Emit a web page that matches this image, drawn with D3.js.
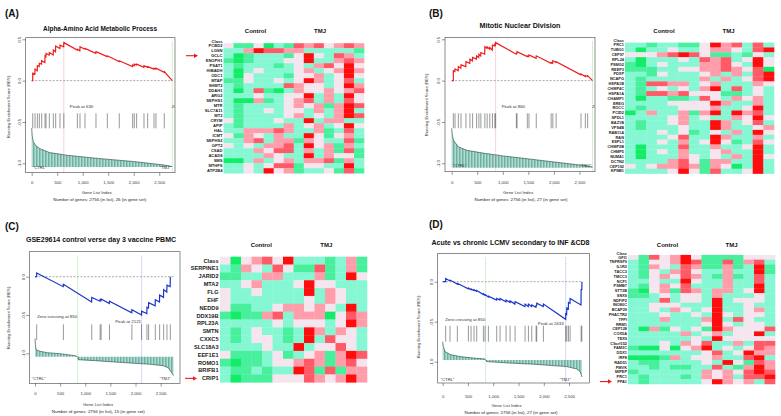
<!DOCTYPE html>
<html>
<head>
<meta charset="utf-8">
<script src="https://cdn.jsdelivr.net/npm/d3@7"></script>
<style>
  body { margin: 0; background: #fff; }
  svg { display: block; font-family: "Liberation Sans", Arial, sans-serif; }
</style>
</head>
<body>
<svg id="fig" width="781" height="416"></svg>
<script>
// data
const listLength = 2756;
const xTicks = [0, 500, 1000, 1500, 2000, 2500];
const groups = ["Control", "TMJ"];

// (A)
const titleA = "Alpha-Amino Acid Metabolic Process";
const esTicksA = [0.5, 0, -0.5, -1];
const peakA = 630, zeroA = 2756;
const hitsA = [20, 65, 111, 150, 196, 261, 281, 346, 424, 470, 555, 630, 895, 947, 1045, 1260, 1482, 1717, 1979, 2011, 2057, 2201, 2273, 2397, 2436, 2599];
const esA = [[0, 0], [20, 0], [20, 0.09], [62, 0.08], [65, 0.14], [108, 0.12], [111, 0.18], [147, 0.17], [150, 0.21], [193, 0.2], [196, 0.24], [258, 0.22], [261, 0.3], [278, 0.29], [281, 0.33], [343, 0.31], [346, 0.34], [421, 0.31], [424, 0.37], [467, 0.35], [470, 0.42], [552, 0.39], [555, 0.43], [627, 0.41], [630, 0.46], [892, 0.37], [895, 0.38], [944, 0.36], [947, 0.41], [1042, 0.38], [1045, 0.39], [1257, 0.33], [1260, 0.35], [1479, 0.29], [1482, 0.3], [1714, 0.23], [1717, 0.24], [1976, 0.17], [1979, 0.19], [2008, 0.18], [2011, 0.2], [2054, 0.19], [2057, 0.2], [2198, 0.16], [2201, 0.18], [2270, 0.16], [2273, 0.17], [2394, 0.14], [2397, 0.15], [2433, 0.14], [2436, 0.15], [2596, 0.1], [2599, 0.11], [2756, 0]];
const metricA = [[0, 1.0], [10, 0.8], [30, 0.65], [80, 0.55], [160, 0.47], [350, 0.37], [700, 0.3], [1300, 0.22], [2000, 0.14], [2600, 0.05], [2756, 0.01]];
const genesA = ["Class", "PCBD2", "LGSN", "GCLC", "ENOPH1", "PSAT1", "HIBADH", "ODC1", "MTAP", "SHMT2", "DDAH1", "ARG2", "SEPHS1", "MTR", "SLC7A11", "MT2", "CRYM", "APIP", "HAL", "ICMT", "SEPHS2", "GPT2", "CSAD", "ACAD8", "SMS", "MTHFS", "ATP2B4"];
const heatA = ["31130215453454", "22465544222221", "20122213632542", "10122233622454", "21222123245363", "20232223423464", "20322213342363", "11322323642352", "21222254332364", "20251024334345", "22232233624263", "20041234524253", "21222234341465", "21223233242462", "21222234232465", "31222322624422", "21222242342363", "22444542241252", "31432422631342", "22452441432251", "32324452634142", "22243552424151", "22224322624331", "00242342445142", "22323551332262", "22326341223151"];
const markA = "GCLC";

// (B)
const titleB = "Mitotic Nuclear Division";
const esTicksB = [0.5, 0, -0.5, -1];
const peakB = 860, zeroB = 2756;
const hitsB = [32, 65, 130, 182, 279, 357, 409, 487, 532, 571, 649, 694, 746, 798, 844, 860, 1266, 1279, 1480, 1512, 1655, 1947, 1980, 2044, 2531, 2616, 2661];
const esB = [[0, 0], [32, 0], [32, 0.12], [62, 0.11], [65, 0.14], [127, 0.12], [130, 0.17], [179, 0.15], [182, 0.19], [276, 0.17], [279, 0.23], [354, 0.21], [357, 0.26], [406, 0.24], [409, 0.28], [484, 0.26], [487, 0.3], [529, 0.28], [532, 0.32], [568, 0.3], [571, 0.34], [646, 0.32], [649, 0.41], [691, 0.39], [694, 0.41], [743, 0.38], [746, 0.4], [795, 0.37], [798, 0.43], [841, 0.42], [844, 0.44], [857, 0.43], [860, 0.46], [1263, 0.32], [1266, 0.33], [1276, 0.33], [1279, 0.35], [1477, 0.29], [1480, 0.3], [1509, 0.29], [1512, 0.31], [1652, 0.27], [1655, 0.3], [1944, 0.21], [1947, 0.22], [1977, 0.21], [1980, 0.24], [2041, 0.22], [2044, 0.23], [2528, 0.07], [2531, 0.08], [2613, 0.05], [2616, 0.06], [2658, 0.05], [2661, 0.06], [2756, 0]];
const metricB = [[0, 1.0], [10, 0.85], [32, 0.7], [130, 0.53], [300, 0.44], [617, 0.37], [1000, 0.3], [1590, 0.21], [2100, 0.13], [2630, 0.05], [2756, 0.02]];
const genesB = ["Class", "PRC1", "TUBG1", "CEP97", "RPL24", "PSMG2", "REEP3", "PDXP", "NCAPG", "HSPA1B", "CHMP4C", "HSPA1A", "CHAMP1", "EREG", "ROCC", "PCID2", "SPDL1", "BAZ1B", "VPS4B", "RAB11A", "RAN", "ESPL1", "CHMP2B", "CHMP5", "NUMA1", "DCTN2", "CEP192", "KPNB1"];
const heatB = ["22122113645252", "20223223443256", "33345653112132", "20222325452363", "10232224453263", "11122334454350", "22132223424256", "21222224242356", "21554423422243", "21232324625232", "21554533311232", "20221125324342", "22223333642242", "21222333422362", "02422414626452", "22223423224363", "21223422642352", "21222322642234", "22232312324263", "22223522642242", "22232423631253", "20222522422362", "20232422342262", "20222432324263", "22224531442262", "32344541430262", "22223631522362"];

// (C)
const titleC = "GSE29614 control verse day 3 vaccine PBMC";
const esTicksC = [0, -0.5, -1];
const peakC = 2121, zeroC = 850;
const hitsC = [33, 565, 1129, 1296, 1316, 1482, 1928, 2121, 2228, 2261, 2394, 2480, 2560, 2626, 2693];
const esC = [[0, 0], [33, 0], [33, 0.05], [562, -0.13], [565, -0.1], [1126, -0.33], [1129, -0.27], [1293, -0.32], [1296, -0.3], [1313, -0.31], [1316, -0.29], [1479, -0.35], [1482, -0.32], [1925, -0.47], [1928, -0.43], [2121, -0.5], [2121, -0.45], [2225, -0.48], [2228, -0.4], [2258, -0.41], [2261, -0.34], [2391, -0.38], [2394, -0.3], [2477, -0.33], [2480, -0.24], [2557, -0.27], [2560, -0.17], [2623, -0.2], [2626, -0.11], [2690, -0.13], [2693, 0]];
const metricC = [[0, 0.9], [8, 0.6], [20, 0.35], [100, 0.27], [250, 0.2], [500, 0.15], [800, 0.05], [850, 0], [860, -0.15], [1200, -0.2], [1800, -0.3], [2300, -0.38], [2550, -0.45], [2650, -0.55], [2720, -0.8], [2756, -0.95]];
const genesC = ["Class", "SERPINE1", "JARID2", "MTA2", "FLG", "EHF", "NEDD9", "DDX19B", "RPL23A", "SMTN", "CXXC5", "SLC18A3", "EEF1E1", "ROMO1", "BRIFB1", "CRIP1"];
const heatC = ["30345362221241", "21432531151241", "11224422241263", "22342223633222", "32232222624322", "32222222324322", "31122344343262", "10114524440354", "22222323332364", "21232212642432", "21233212625332", "22223226233532", "31112312341465", "10112334541453", "21121226515144", "20111333543464"];
const markC = "CRIP1";

// (D)
const titleD = "Acute vs chronic LCMV secondary to INF &CD8";
const esTicksD = [0, -0.5, -1];
const peakD = 2433, zeroD = 850;
const hitsD = [59, 145, 290, 508, 561, 620, 673, 805, 838, 904, 1069, 1135, 1254, 1333, 1432, 1630, 1696, 1762, 1848, 1861, 1993, 2434, 2455, 2488, 2521, 2739, 2752];
const esD = [[0, 0], [59, 0], [59, 0.04], [142, 0.01], [145, 0.02], [287, -0.03], [290, -0.02], [505, -0.09], [508, -0.08], [558, -0.1], [561, -0.09], [617, -0.11], [620, -0.1], [670, -0.12], [673, -0.11], [802, -0.16], [805, -0.15], [835, -0.17], [838, -0.16], [901, -0.19], [904, -0.18], [1066, -0.23], [1069, -0.21], [1132, -0.23], [1135, -0.21], [1251, -0.25], [1254, -0.23], [1330, -0.26], [1333, -0.24], [1429, -0.28], [1432, -0.25], [1627, -0.31], [1630, -0.28], [1693, -0.31], [1696, -0.28], [1759, -0.31], [1762, -0.29], [1845, -0.32], [1848, -0.3], [1858, -0.3], [1861, -0.27], [1990, -0.31], [1993, -0.28], [2433, -0.47], [2434, -0.4], [2452, -0.41], [2455, -0.33], [2485, -0.34], [2488, -0.26], [2518, -0.27], [2521, -0.21], [2736, -0.29], [2739, -0.1], [2752, -0.1], [2756, 0]];
const metricD = [[0, 0.92], [10, 0.7], [46, 0.42], [150, 0.27], [343, 0.17], [600, 0.1], [838, 0.05], [850, 0], [870, -0.08], [1300, -0.15], [1795, -0.21], [2455, -0.33], [2650, -0.45], [2719, -0.58], [2756, -0.85]];
const genesD = ["Class", "GFI1", "TNFRSF9", "IL1R2", "TACC3", "TMCC3", "NCF1", "PSMB7", "STT3B", "SNX9", "NDFIP2", "INO80C", "BCAP29", "PHACTR2", "TFPI", "RRM1", "CEP128", "COX5A", "TEX9", "C9orf152", "FAM3C", "DDX1", "IRF8", "RAD51", "PMVK", "MIPEP", "PRC1", "PPA1"];
const heatD = ["31534631111333", "21334651151452", "21432541141261", "21324532242261", "21343542141252", "22322632242252", "21343522242262", "10341542442362", "11232332422232", "22252332623332", "22333222622322", "22324323622342", "22232232632332", "22242224625322", "22222223632332", "20413231643335", "22222423423362", "22222232633333", "22232435224255", "10030346232354", "22222223523644", "00014233422562", "21122223263154", "22121122521464", "12222224343565", "21222124342556", "21222223643425"];
const markD = "PPA1";

// mise en page (pixels only)
const layouts = {
  A: { tag: [5, 17, "(A)"], title: [100, 31, 114], box: [25.7, 37.7, 175, 172.7], xr: [31.7, 172.3],
    esRange: [163.3, 39.3], esDom: [-1, 0.5], hitY: [113.3, 128.3], base: 167, unit: 39, xTickBase: 184,
    yTitle: [10, 107], xTitle: [96.7, 194], nGenes: [99.7, 201],
    peakText: { dx: 6, y: 108, anchor: "start" }, zeroText: { dx: -0.5, y: 108, anchor: "start" },
    ctrl: [32.7, 168.5], tmj: [170.7, 168.5], color: "#ee1c1c", peakColor: "#e07070",
    heat: { x0: 223.5, x1: 364, y0: 43.2, rowH: 5, labelX: 222.5, fs: 4.1, headY: 33, ctrlX: 255.5, tmjX: 320 },
    arrow: [186, 198] },
  B: { tag: [429, 17, "(B)"], title: [520, 27.5, 81], box: [445, 37.3, 595, 171.7], xr: [451.7, 592.5],
    esRange: [163.3, 39.3], esDom: [-1, 0.5], hitY: [113.3, 128.3], base: 167.7, unit: 39.4, xTickBase: 184,
    yTitle: [428, 105], xTitle: [518, 194], nGenes: [521, 201],
    peakText: { dx: 6, y: 108, anchor: "start" }, zeroText: { dx: -0.5, y: 108, anchor: "start" },
    ctrl: [452.7, 167], tmj: [591, 167], color: "#ee1c1c", peakColor: "#e07070",
    heat: { x0: 625, x1: 774, y0: 42.6, rowH: 4.85, labelX: 624, fs: 3.9, headY: 33, ctrlX: 664, tmjX: 728.5 },
    arrow: null },
  C: { tag: [5, 229.5, "(C)"], title: [101, 241.5, 150], box: [29.3, 251.7, 180, 383.3], xr: [35, 173.5],
    esRange: [353.3, 276.7], esDom: [-1, 0], hitY: [324.3, 340], base: 356.7, unit: 20, xTickBase: 395,
    yTitle: [10, 318], xTitle: [98, 405.5], nGenes: [98.3, 412.5],
    peakText: { dx: -0.5, y: 322.5, anchor: "end" }, zeroText: { dx: -0.5, y: 318, anchor: "end" },
    ctrl: [31.7, 379.5], tmj: [170.7, 379.5], color: "#1b36c8", peakColor: "#6f7fd6",
    heat: { x0: 220, x1: 367, y0: 256.7, rowH: 7.85, labelX: 218.5, fs: 5.6, headY: 247, ctrlX: 261.3, tmjX: 326.3 },
    arrow: [185, 197] },
  D: { tag: [429, 228, "(D)"], title: [510.5, 245, 158], box: [437.7, 253.3, 589.3, 383], xr: [442.7, 582],
    esRange: [361.7, 281.7], esDom: [-1, 0], hitY: [325.7, 341.7], base: 360, unit: 20, xTickBase: 398,
    yTitle: [420, 327], xTitle: [506.5, 406.5], nGenes: [511, 413.5],
    peakText: { dx: -2, y: 325, anchor: "end" }, zeroText: { dx: -0.5, y: 321, anchor: "end" },
    ctrl: [440.7, 380.5], tmj: [570.7, 380.5], color: "#1b36c8", peakColor: "#6f7fd6",
    heat: { x0: 628, x1: 775, y0: 254.9, rowH: 4.78, labelX: 627, fs: 3.9, headY: 247, ctrlX: 667.5, tmjX: 731.5 },
    arrow: [600, 612] }
};

const panels = [
  { key: "A", title: titleA, esTicks: esTicksA, peak: peakA, zero: zeroA, hits: hitsA, es: esA, metric: metricA, genes: genesA, heat: heatA, mark: markA },
  { key: "B", title: titleB, esTicks: esTicksB, peak: peakB, zero: zeroB, hits: hitsB, es: esB, metric: metricB, genes: genesB, heat: heatB, mark: null },
  { key: "C", title: titleC, esTicks: esTicksC, peak: peakC, zero: zeroC, hits: hitsC, es: esC, metric: metricC, genes: genesC, heat: heatC, mark: markC },
  { key: "D", title: titleD, esTicks: esTicksD, peak: peakD, zero: zeroD, hits: hitsD, es: esD, metric: metricD, genes: genesD, heat: heatD, mark: markD }
];

const heatColor = d3.scaleOrdinal()
  .domain([0, 1, 2, 3, 4, 5, 6])
  .range(["#12ec66", "#48ef9c", "#86f7d3", "#f4e5ee", "#ff9dab", "#ff5a66", "#ff0d0d"]);

const svg = d3.select("#fig");
svg.append("rect").attr("width", 781).attr("height", 416).attr("fill", "#fff");

// motif des barres du classement
const defs = svg.append("defs");
const pat = defs.append("pattern").attr("id", "stripes")
  .attr("width", 1.5).attr("height", 6).attr("patternUnits", "userSpaceOnUse");
pat.append("rect").attr("width", 1.5).attr("height", 6).attr("fill", "#d7eee8");
pat.append("rect").attr("width", 0.85).attr("height", 6).attr("fill", "#5aa999");

function txt(g, x, y, s, size, opts = {}) {
  const t = g.append("text").attr("x", x).attr("y", y).text(s)
    .attr("font-size", size).attr("fill", opts.fill || "#222")
    .attr("text-anchor", opts.anchor || "middle");
  if (opts.bold) t.attr("font-weight", "bold");
  if (opts.len) t.attr("textLength", opts.len).attr("lengthAdjust", "spacingAndGlyphs");
  return t;
}

function drawGsea(p, L) {
  const g = svg.append("g");
  const [bx0, by0, bx1, by1] = L.box;
  const x = d3.scaleLinear().domain([0, listLength]).range(L.xr);
  const y = d3.scaleLinear().domain(L.esDom).range(L.esRange);
  const m = d3.scaleLinear().domain([0, 1]).range([L.base, L.base - L.unit]);

  defs.append("clipPath").attr("id", "clip" + p.key)
    .append("rect").attr("x", bx0).attr("y", by0).attr("width", bx1 - bx0).attr("height", by1 - by0);
  const inner = g.append("g").attr("clip-path", `url(#clip${p.key})`);

  // classement
  inner.append("path").datum(p.metric)
    .attr("fill", "url(#stripes)")
    .attr("d", d3.area().x((d) => x(d[0])).y0(m(0)).y1((d) => m(d[1])));
  inner.append("path").datum(p.metric)
    .attr("fill", "none").attr("stroke", "#24443e").attr("stroke-width", 0.6)
    .attr("d", d3.line().x((d) => x(d[0])).y((d) => m(d[1])));

  // ligne zéro
  inner.append("line")
    .attr("x1", x(0)).attr("x2", x(listLength)).attr("y1", y(0)).attr("y2", y(0))
    .attr("stroke", "#555").attr("stroke-width", 0.5).attr("stroke-dasharray", "2,1.5");

  // repères
  inner.append("line")
    .attr("x1", x(p.zero)).attr("x2", x(p.zero)).attr("y1", by0 + 4).attr("y2", by1)
    .attr("stroke", "#6fce6f").attr("stroke-width", 0.6).attr("stroke-dasharray", "1,1");
  inner.append("line")
    .attr("x1", x(p.peak)).attr("x2", x(p.peak)).attr("y1", by0 + 4).attr("y2", by1)
    .attr("stroke", L.peakColor).attr("stroke-width", 0.6).attr("stroke-dasharray", "1,1");

  // gènes du set
  inner.selectAll(".hit").data(p.hits).enter().append("line")
    .attr("x1", (d) => x(d)).attr("x2", (d) => x(d))
    .attr("y1", L.hitY[0]).attr("y2", L.hitY[1])
    .attr("stroke", "#333").attr("stroke-width", 0.5);

  // score
  inner.append("path").datum(p.es)
    .attr("fill", "none").attr("stroke", L.color).attr("stroke-width", 1.2)
    .attr("d", d3.line().x((d) => x(d[0])).y((d) => y(d[1])));

  txt(inner, x(p.peak) + L.peakText.dx, L.peakText.y, "Peak at " + p.peak, 4.4, { anchor: L.peakText.anchor, fill: "#333" });
  // au bout de la liste, le texte est coupé par le cadre : on ne garde que la partie visible
  let zeroLabel = "Zero crossing at " + p.zero;
  if (p.zero === listLength) zeroLabel = zeroLabel.slice(0, 2);
  txt(inner, x(p.zero) + L.zeroText.dx, L.zeroText.y, zeroLabel, 4.4, { anchor: L.zeroText.anchor, fill: "#333" });
  txt(inner, L.ctrl[0], L.ctrl[1], '"CTRL"', 4.2, { anchor: "start", fill: "#333" });
  txt(inner, L.tmj[0], L.tmj[1], '"TMJ"', 4.2, { anchor: "end", fill: "#333" });

  g.append("rect").attr("x", bx0).attr("y", by0).attr("width", bx1 - bx0).attr("height", by1 - by0)
    .attr("fill", "none").attr("stroke", "#444").attr("stroke-width", 0.6);

  // axes
  const fs = 4.3;
  const gx = g.append("g").attr("transform", `translate(0,${by1})`)
    .call(d3.axisBottom(x).tickValues(xTicks).tickSize(3.2).tickSizeOuter(0)
      .tickPadding(L.xTickBase - by1 - 3.2 - 0.71 * fs));
  gx.attr("font-size", fs).attr("font-family", null);
  gx.select(".domain").remove();
  gx.selectAll("line").attr("stroke", "#333").attr("stroke-width", 0.5);
  gx.selectAll("text").attr("fill", "#333");

  const gy = g.append("g").attr("transform", `translate(${bx0},0)`)
    .call(d3.axisLeft(y).tickValues(p.esTicks).tickSize(3.2).tickSizeOuter(0).tickFormat((d) => d.toFixed(1)));
  gy.attr("font-size", fs).attr("font-family", null);
  gy.select(".domain").remove();
  gy.selectAll("line").attr("stroke", "#333").attr("stroke-width", 0.5);
  gy.selectAll("text").attr("fill", "#333").attr("x", null).attr("dy", null)
    .attr("text-anchor", "middle").attr("transform", "translate(-4.6,0) rotate(-90)");

  // titres
  txt(svg, L.tag[0], L.tag[1], L.tag[2], 10, { anchor: "start", bold: true, fill: "#111" });
  txt(svg, L.title[0], L.title[1], p.title, 7, { bold: true, len: L.title[2], fill: "#111" });
  txt(svg, L.xTitle[0], L.xTitle[1], "Gene List Index", 4.3, { fill: "#333" });
  txt(svg, L.nGenes[0], L.nGenes[1], `Number of genes: ${listLength} (in list), ${p.hits.length} (in gene set)`, 4.4, { fill: "#222" });
  txt(svg, 0, 0, "Running Enrichment Score (RES)", 4.2, { fill: "#333" })
    .attr("transform", `translate(${L.yTitle[0]},${L.yTitle[1]}) rotate(-90)`);
}

function drawHeat(p, L) {
  const H = L.heat;
  const g = svg.append("g");
  const rows = p.heat.map((s) => s.split("").map(Number));
  const withClass = rows.length === p.genes.length;
  const rowGenes = withClass ? p.genes : p.genes.slice(1);
  const nCol = rows[0].length;

  const xb = d3.scaleBand().domain(d3.range(nCol)).range([H.x0, H.x1]);
  const yb = d3.scaleBand().domain(rowGenes).range([H.y0, H.y0 + H.rowH * rowGenes.length]);

  rows.forEach((r, i) => {
    g.selectAll(null).data(r).enter().append("rect")
      .attr("x", (d, j) => xb(j)).attr("y", yb(rowGenes[i]))
      .attr("width", xb.bandwidth() + 0.3).attr("height", yb.bandwidth() + 0.3)
      .attr("fill", (d) => heatColor(d));
  });

  g.selectAll(".gene").data(rowGenes).enter().append("text")
    .attr("x", H.labelX).attr("y", (d) => yb(d) + yb.bandwidth() / 2)
    .attr("dy", "0.35em").attr("text-anchor", "end")
    .attr("font-size", H.fs).attr("font-weight", "bold").attr("fill", "#222")
    .text((d) => d);
  if (!withClass) {
    txt(g, H.labelX, H.y0 - 0.4, p.genes[0], H.fs, { anchor: "end", bold: true });
  }

  txt(g, H.ctrlX, H.headY, groups[0], 6, { bold: true, fill: "#111" });
  txt(g, H.tmjX, H.headY, groups[1], 6, { bold: true, fill: "#111" });

  // flèche rouge
  if (p.mark && L.arrow) {
    const ya = yb(p.mark) + yb.bandwidth() / 2;
    g.append("line").attr("x1", L.arrow[0]).attr("x2", L.arrow[1] - 3).attr("y1", ya).attr("y2", ya)
      .attr("stroke", "#f01818").attr("stroke-width", 1.1);
    g.append("path")
      .attr("d", `M${L.arrow[1]},${ya} L${L.arrow[1] - 4},${ya - 2.2} L${L.arrow[1] - 4},${ya + 2.2} Z`)
      .attr("fill", "#f01818");
  }
}

panels.forEach((p) => {
  drawGsea(p, layouts[p.key]);
  drawHeat(p, layouts[p.key]);
});
</script>
</body>
</html>
